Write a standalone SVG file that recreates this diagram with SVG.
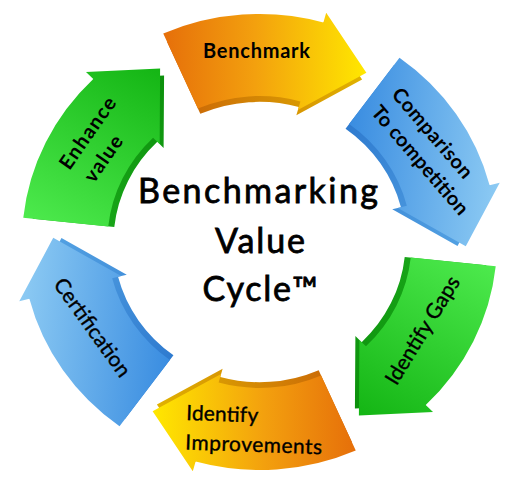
<svg xmlns="http://www.w3.org/2000/svg" width="530" height="483" viewBox="0 0 530 483">
<defs>
<path id="arrow" d="M -92.37 -208.45 A 228 228 0 0 1 61.32 -219.61 L 64.01 -229.24 L 102.57 -169.36 L 36.84 -131.96 L 39.26 -140.62 A 146 146 0 0 0 -59.15 -133.48 Z"/>
<linearGradient id="gOrange" x1="0" y1="0" x2="1" y2="0">
<stop offset="0" stop-color="#E66F0A"/><stop offset="0.45" stop-color="#F3A00E"/><stop offset="1" stop-color="#FFE800"/>
</linearGradient>
<linearGradient id="sOrange" x1="0" y1="0" x2="1" y2="0">
<stop offset="0" stop-color="#C86008"/><stop offset="1" stop-color="#E0B200"/>
</linearGradient>
<linearGradient id="gBlue" x1="0" y1="1" x2="1" y2="0.3">
<stop offset="0" stop-color="#2E84DE"/><stop offset="1" stop-color="#8CCAF3"/>
</linearGradient>
<linearGradient id="sBlue" x1="0" y1="0" x2="1" y2="0">
<stop offset="0" stop-color="#2874CC"/><stop offset="1" stop-color="#52A0E2"/>
</linearGradient>
<linearGradient id="gGreen" x1="0" y1="0" x2="1" y2="0">
<stop offset="0" stop-color="#4DEA4D"/><stop offset="1" stop-color="#14B514"/>
</linearGradient>
<linearGradient id="sGreen" x1="0" y1="0" x2="1" y2="0">
<stop offset="0" stop-color="#1AA81A"/><stop offset="1" stop-color="#0C900C"/>
</linearGradient>
</defs>
<style>
.lbl{font-family:Lato,"Open Sans","DejaVu Sans",sans-serif;font-size:21px;fill:#000;stroke:#000;stroke-width:0.35px}
.b{font-weight:bold;font-size:20px;stroke:none}
.title{font-family:Lato,"Open Sans","DejaVu Sans",sans-serif;font-size:34px;fill:#000;stroke:#000;stroke-width:0.8px;text-anchor:middle}
</style>
<rect width="530" height="483" fill="#fff"/>
<g id="connectors"></g>

<g id="node-benchmark">
<g transform="translate(259.5 242) scale(1.042 1)">
<use href="#arrow" fill="url(#sOrange)" transform="scale(0.96)"/>
<use href="#arrow" fill="url(#gOrange)"/>
</g>
<text class="lbl b" x="203" y="58" textLength="107" font-size="21">Benchmark</text>
</g>

<g id="node-comparison">
<g transform="translate(259.5 242) scale(1.042 1) rotate(60)">
<use href="#arrow" fill="url(#sBlue)" transform="scale(0.96)"/>
<use href="#arrow" fill="url(#gBlue)"/>
</g>
<g transform="translate(390.8 95.1) rotate(49.3)">
<text class="lbl b" x="0" y="0" textLength="112">Comparison</text>
<text class="lbl b" x="0" y="27" textLength="137">To competition</text>
</g>
</g>

<g id="node-gaps">
<g transform="translate(259.5 242) scale(1.042 1) rotate(120)">
<use href="#arrow" fill="url(#sGreen)" transform="scale(0.96)"/>
<use href="#arrow" fill="url(#gGreen)"/>
</g>
<text class="lbl" transform="translate(396.4 386.6) rotate(-58.5)" x="0" y="0" textLength="123">Identify Gaps</text>
</g>

<g id="node-improvements">
<g transform="translate(259.5 242) scale(1.042 1) rotate(180)">
<use href="#arrow" fill="url(#sOrange)" transform="scale(0.96)"/>
<use href="#arrow" fill="url(#gOrange)"/>
</g>
<g transform="translate(186 420) rotate(2)">
<text class="lbl" x="0" y="0" textLength="72">Identify</text>
<text class="lbl" x="0" y="29.5" textLength="137">Improvements</text>
</g>
</g>

<g id="node-certification">
<g transform="translate(259.5 242) scale(1.042 1) rotate(240)">
<use href="#arrow" fill="url(#sBlue)" transform="scale(0.96)"/>
<use href="#arrow" fill="url(#gBlue)"/>
</g>
<text class="lbl" transform="translate(52.7 284.5) rotate(54.3)" x="0" y="0" textLength="116">Certification</text>
</g>

<g id="node-enhance">
<g transform="translate(259.5 242) scale(1.042 1) rotate(-60)">
<use href="#arrow" fill="url(#sGreen)" transform="scale(0.96)"/>
<use href="#arrow" fill="url(#gGreen)"/>
</g>
<g transform="translate(69.4 170.9) rotate(-55)">
<text class="lbl b" x="0" y="0" textLength="83" font-size="21">Enhance</text>
<text class="lbl b" x="3.4" y="27.6" textLength="52" font-size="21">value</text>
</g>
</g>

<g id="node-center">
<text class="title" x="258" y="203" textLength="240">Benchmarking</text>
<text class="title" x="260" y="253" textLength="90">Value</text>
<text class="title" x="260" y="300.5" textLength="115">Cycle™</text>
</g>
</svg>
